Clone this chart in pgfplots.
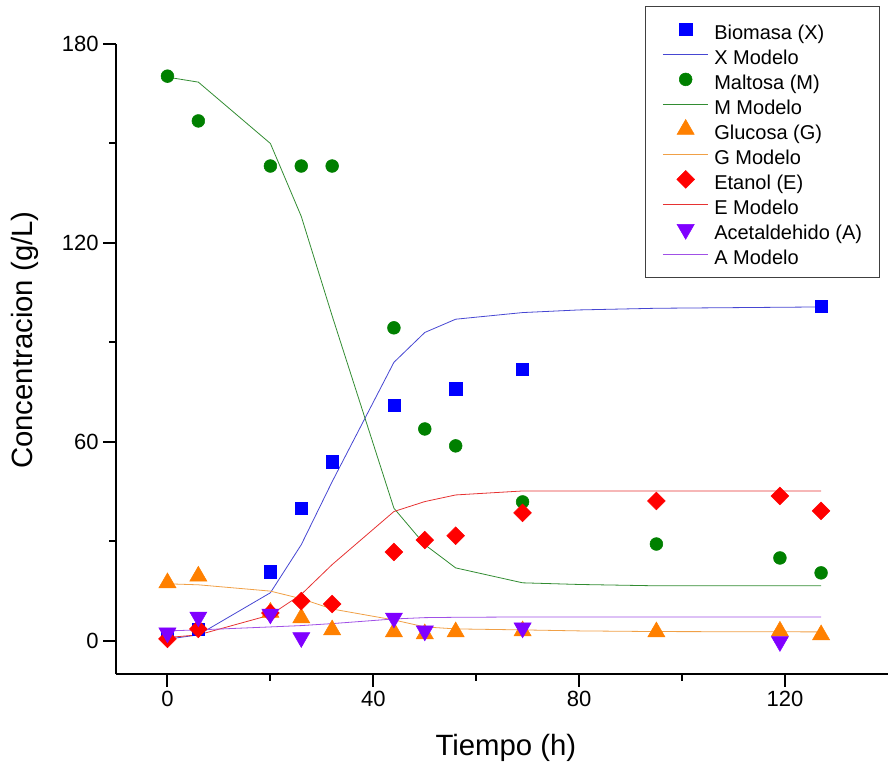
\documentclass[border=0pt]{standalone}
\usepackage{fontspec}
\setmainfont{Liberation Sans}
\usepackage{pgfplots}
\pgfplotsset{compat=1.18}
\definecolor{ptX}{RGB}{0,0,255}
\definecolor{ptM}{RGB}{0,128,0}
\definecolor{ptG}{RGB}{255,128,0}
\definecolor{ptE}{RGB}{255,0,0}
\definecolor{ptA}{RGB}{128,0,255}
\definecolor{lnX}{RGB}{70,70,210}
\definecolor{lnM}{RGB}{50,140,50}
\definecolor{lnG}{RGB}{240,160,70}
\definecolor{lnE}{RGB}{230,50,50}
\definecolor{lnA}{RGB}{160,80,230}
\pgfplotsset{
  linelegend/.style={legend image code/.code={\draw[#1, line width=0.75pt] (0cm,0cm) -- (1.2cm,0cm);}},
}
\begin{document}
\begin{tikzpicture}
\begin{axis}[
  scale only axis, width=579pt, height=472.5pt,
  xmin=-10, xmax=140, ymin=-10, ymax=180,
  axis x line=bottom, axis y line=left,
  axis line style={-, line width=1.5pt},
  xtick={0,40,80,120}, minor xtick={20,60,100},
  ytick={0,60,120,180}, minor ytick={30,90,150},
  tick align=outside, major tick length=9.5pt, minor tick length=5pt,
  every tick/.style={line width=1.5pt, black},
  /pgf/number format/assume math mode=true,
  tick label style={font=\fontsize{16.5}{18}\selectfont},
  xlabel={Tiempo (h)}, ylabel={Concentracion (g/L)},
  label style={font=\fontsize{22}{24}\selectfont},
  xlabel style={at={(rel axis cs:0.505,-0.117)}, anchor=center},
  ylabel style={at={(rel axis cs:-0.118,0.53)}, anchor=center, rotate=0},
  clip=false,
  legend cell align=left,
  legend image code/.code={\draw[mark repeat=2,mark phase=2,#1] plot coordinates {(0cm,0cm) (0.6cm,0cm) (1.2cm,0cm)};},
  legend style={at={(rel axis cs:0.9896,1.061)}, anchor=north east,
    draw=black!75, line width=0.75pt, fill=white,
    font=\fontsize{15}{16}\selectfont,
    inner xsep=13pt, inner ysep=7.5pt, row sep=-1.25pt,
    nodes={inner sep=0pt, text height=17.5pt, text depth=2.5pt},
    /tikz/column 1/.style={column sep=4pt}},
]
% Biomasa
\addplot[color=ptX, only marks, mark=square*, mark size=4.6pt, mark options={solid, fill=ptX, line width=0.4pt}]
 coordinates {(0,2) (6,3.5) (20,20.8) (26,40) (32,54) (44,71) (56,76) (69,82) (127,101)};
\addlegendentry{Biomasa (X)}
\addplot[color=lnX, line width=0.6pt, mark=none, legend image code/.code={\draw[lnX, line width=0.75pt] (0cm,0cm) -- (1.2cm,0cm);}]
 coordinates {(0,0.5) (6,1.8) (20,14.5) (26,29) (32,48) (44,84) (50,93) (56,97) (69,99) (80,99.8) (95,100.3) (127,100.7)};
\addlegendentry{X Modelo}
% Maltosa
\addplot[color=ptM, only marks, mark=*, mark size=4.8pt, mark options={solid, fill=ptM, line width=0.4pt}]
 coordinates {(0,170.3) (6,156.8) (20,143.2) (26,143.2) (32,143.2) (44,94.4) (50,63.9) (56,58.8) (69,41.9) (95,29.2) (119,25) (127,20.5)};
\addlegendentry{Maltosa (M)}
\addplot[color=lnM, line width=0.6pt, mark=none, legend image code/.code={\draw[lnM, line width=0.75pt] (0cm,0cm) -- (1.2cm,0cm);}]
 coordinates {(0,170) (6,168.5) (20,150) (26,128) (32,98) (44,40) (50,29) (56,22) (69,17.5) (80,17) (95,16.6) (127,16.6)};
\addlegendentry{M Modelo}
% Glucosa
\addplot[color=ptG, only marks, mark=triangle*, mark size=7.4pt, mark options={solid, fill=ptG, line width=0.4pt}]
 coordinates {(0,17.5) (6,19.5) (20,8.6) (26,6.9) (32,3.3) (44,2.7) (50,2.1) (56,2.7) (69,3) (95,2.7) (119,2.9) (127,1.8)};
\addlegendentry{Glucosa (G)}
\addplot[color=lnG, line width=0.6pt, mark=none, legend image code/.code={\draw[lnG, line width=0.75pt] (0cm,0cm) -- (1.2cm,0cm);}]
 coordinates {(0,17.2) (6,16.9) (20,15) (26,12.7) (32,9.6) (44,6.3) (50,4.2) (56,3.6) (69,3.3) (80,3) (95,2.8) (127,2.7)};
\addlegendentry{G Modelo}
% Etanol
\addplot[color=ptE, only marks, mark=square*, mark size=4.7pt, mark options={solid, rotate=45, fill=ptE, line width=0.4pt}]
 coordinates {(0,0.6) (6,3.6) (20,8.4) (26,12) (32,11.1) (44,26.8) (50,30.4) (56,31.7) (69,38.6) (95,42.2) (119,43.7) (127,39.2)};
\addlegendentry{Etanol (E)}
\addplot[color=lnE, line width=0.6pt, mark=none, legend image code/.code={\draw[lnE, line width=0.75pt] (0cm,0cm) -- (1.2cm,0cm);}]
 coordinates {(0,1) (6,1.8) (20,7.8) (26,14) (32,23) (44,39) (50,42) (56,44) (69,45.2) (80,45.2) (95,45.2) (127,45.2)};
\addlegendentry{E Modelo}
% Acetaldehido
\addplot[color=ptA, only marks, mark=triangle*, mark size=7.4pt, mark options={solid, rotate=180, fill=ptA, line width=0.4pt}]
 coordinates {(0,2.4) (6,7.2) (20,8.1) (26,1.0) (44,6.9) (50,3.0) (69,3.9) (119,-0.2)};
\addlegendentry{Acetaldehido (A)}
\addplot[color=lnA, line width=0.6pt, mark=none, legend image code/.code={\draw[lnA, line width=0.75pt] (0cm,0cm) -- (1.2cm,0cm);}]
 coordinates {(0,3) (6,3.3) (20,4.2) (26,4.6) (32,5.2) (44,6.6) (50,7.0) (56,7.1) (69,7.2) (80,7.2) (95,7.2) (127,7.2)};
\addlegendentry{A Modelo}
\coordinate (bl) at (rel axis cs:-0.15026,-0.15556);
\coordinate (tr) at (rel axis cs:1,1.06984);
\end{axis}
\pgfresetboundingbox
\useasboundingbox (bl) rectangle (tr);
\end{tikzpicture}
\end{document}
